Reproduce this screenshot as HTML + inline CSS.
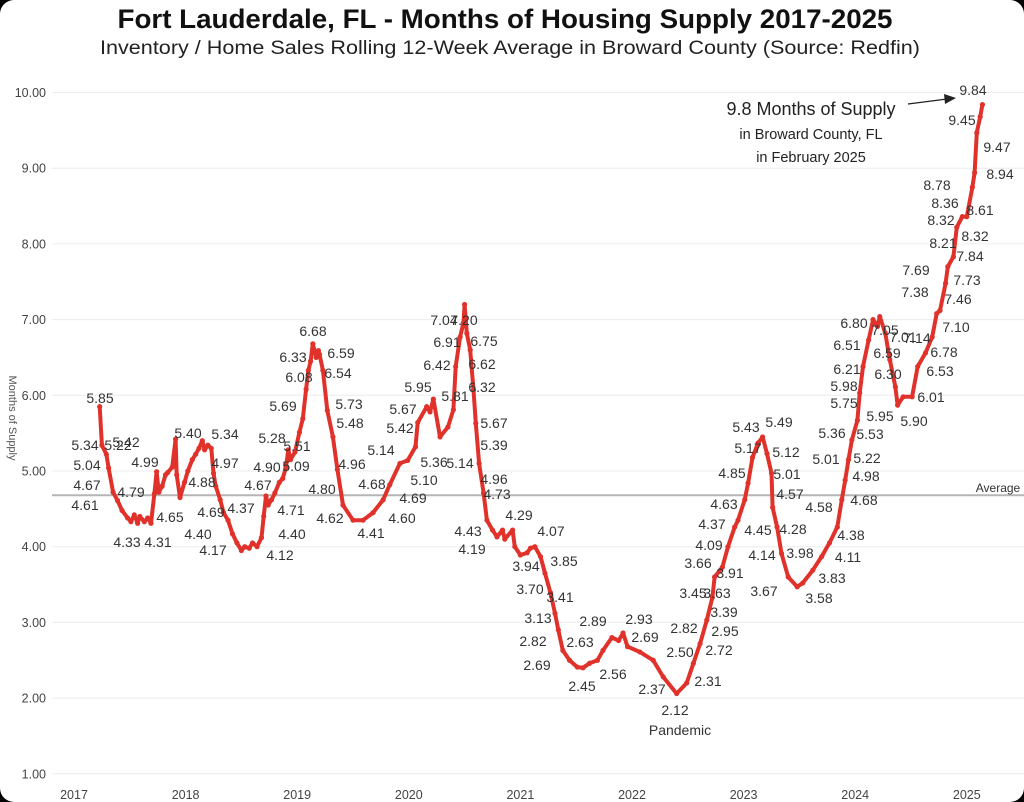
<!DOCTYPE html>
<html><head><meta charset="utf-8"><style>
html,body{margin:0;padding:0;background:#000;}
#wrap{position:relative;width:1024px;height:802px;background:#fff;border-radius:14px;overflow:hidden;}
svg{position:absolute;left:0;top:0;}
text{font-family:"Liberation Sans",sans-serif;}
.lb{font-size:14px;fill:#333;text-anchor:middle;}
.tk{font-size:12.5px;fill:#444;font-family:"Liberation Sans Narrow","Liberation Sans",sans-serif;}
</style></head><body>
<div id="wrap">
<svg id="chart" width="1024" height="802">
<text x="505" y="28" text-anchor="middle" font-size="27" font-weight="bold" textLength="775" lengthAdjust="spacingAndGlyphs" fill="#111" style="font-family:'Liberation Sans Narrow','Liberation Sans',sans-serif">Fort Lauderdale, FL - Months of Housing Supply 2017-2025</text>
<text x="510" y="54" text-anchor="middle" font-size="19" textLength="820" lengthAdjust="spacingAndGlyphs" fill="#222" style="font-family:'Liberation Sans Narrow','Liberation Sans',sans-serif">Inventory / Home Sales Rolling 12-Week Average in Broward County (Source: Redfin)</text>
<text transform="translate(9,418) rotate(90)" text-anchor="middle" font-size="11" fill="#555">Months of Supply</text>
<g id="grid"></g>
<g id="series"></g>
<g id="labels">
<text class="lb" x="100" y="403">5.85</text><text class="lb" x="85" y="450">5.34</text><text class="lb" x="118" y="450">5.22</text><text class="lb" x="87" y="470">5.04</text><text class="lb" x="131" y="497">4.79</text><text class="lb" x="87" y="490">4.67</text><text class="lb" x="85" y="510">4.61</text><text class="lb" x="127" y="547">4.33</text><text class="lb" x="158" y="547">4.31</text><text class="lb" x="126" y="447">5.42</text><text class="lb" x="145" y="467">4.99</text><text class="lb" x="170" y="522">4.65</text><text class="lb" x="188" y="438">5.40</text><text class="lb" x="225" y="439">5.34</text><text class="lb" x="225" y="468">4.97</text><text class="lb" x="202" y="487">4.88</text><text class="lb" x="211" y="517">4.69</text><text class="lb" x="198" y="539">4.40</text><text class="lb" x="213" y="555">4.17</text><text class="lb" x="241" y="513">4.37</text><text class="lb" x="258" y="490">4.67</text><text class="lb" x="267" y="472">4.90</text><text class="lb" x="272" y="443">5.28</text><text class="lb" x="291" y="515">4.71</text><text class="lb" x="292" y="539">4.40</text><text class="lb" x="280" y="560">4.12</text><text class="lb" x="283" y="411">5.69</text><text class="lb" x="299" y="382">6.08</text><text class="lb" x="293" y="362">6.33</text><text class="lb" x="313" y="336">6.68</text><text class="lb" x="341" y="358">6.59</text><text class="lb" x="338" y="378">6.54</text><text class="lb" x="349" y="409">5.73</text><text class="lb" x="350" y="428">5.48</text><text class="lb" x="297" y="451">5.51</text><text class="lb" x="296" y="471">5.09</text><text class="lb" x="322" y="494">4.80</text><text class="lb" x="352" y="469">4.96</text><text class="lb" x="372" y="489">4.68</text><text class="lb" x="330" y="523">4.62</text><text class="lb" x="371" y="538">4.41</text><text class="lb" x="402" y="523">4.60</text><text class="lb" x="413" y="503">4.69</text><text class="lb" x="381" y="455">5.14</text><text class="lb" x="424" y="485">5.10</text><text class="lb" x="434" y="467">5.36</text><text class="lb" x="400" y="433">5.42</text><text class="lb" x="403" y="414">5.67</text><text class="lb" x="418" y="392">5.95</text><text class="lb" x="437" y="370">6.42</text><text class="lb" x="447" y="347">6.91</text><text class="lb" x="444" y="325">7.04</text><text class="lb" x="464" y="325">7.20</text><text class="lb" x="484" y="346">6.75</text><text class="lb" x="482" y="369">6.62</text><text class="lb" x="482" y="392">6.32</text><text class="lb" x="455" y="401">5.81</text><text class="lb" x="460" y="468">5.14</text><text class="lb" x="494" y="428">5.67</text><text class="lb" x="494" y="450">5.39</text><text class="lb" x="494" y="484">4.96</text><text class="lb" x="497" y="499">4.73</text><text class="lb" x="468" y="536">4.43</text><text class="lb" x="472" y="554">4.19</text><text class="lb" x="519" y="520">4.29</text><text class="lb" x="551" y="536">4.07</text><text class="lb" x="526" y="571">3.94</text><text class="lb" x="564" y="566">3.85</text><text class="lb" x="530" y="594">3.70</text><text class="lb" x="560" y="602">3.41</text><text class="lb" x="538" y="623">3.13</text><text class="lb" x="533" y="646">2.82</text><text class="lb" x="537" y="670">2.69</text><text class="lb" x="580" y="647">2.63</text><text class="lb" x="593" y="626">2.89</text><text class="lb" x="582" y="691">2.45</text><text class="lb" x="613" y="679">2.56</text><text class="lb" x="639" y="624">2.93</text><text class="lb" x="645" y="642">2.69</text><text class="lb" x="652" y="694">2.37</text><text class="lb" x="675" y="715">2.12</text><text class="lb" x="680" y="735">Pandemic</text><text class="lb" x="684" y="633">2.82</text><text class="lb" x="680" y="657">2.50</text><text class="lb" x="708" y="686">2.31</text><text class="lb" x="719" y="655">2.72</text><text class="lb" x="725" y="636">2.95</text><text class="lb" x="724" y="617">3.39</text><text class="lb" x="717" y="598">3.63</text><text class="lb" x="693" y="598">3.45</text><text class="lb" x="730" y="578">3.91</text><text class="lb" x="698" y="568">3.66</text><text class="lb" x="709" y="550">4.09</text><text class="lb" x="712" y="529">4.37</text><text class="lb" x="724" y="509">4.63</text><text class="lb" x="732" y="478">4.85</text><text class="lb" x="748" y="453">5.17</text><text class="lb" x="746" y="432">5.43</text><text class="lb" x="779" y="427">5.49</text><text class="lb" x="786" y="457">5.12</text><text class="lb" x="787" y="479">5.01</text><text class="lb" x="790" y="499">4.57</text><text class="lb" x="758" y="535">4.45</text><text class="lb" x="793" y="534">4.28</text><text class="lb" x="762" y="560">4.14</text><text class="lb" x="800" y="558">3.98</text><text class="lb" x="764" y="596">3.67</text><text class="lb" x="819" y="603">3.58</text><text class="lb" x="832" y="583">3.83</text><text class="lb" x="848" y="562">4.11</text><text class="lb" x="851" y="540">4.38</text><text class="lb" x="819" y="512">4.58</text><text class="lb" x="864" y="505">4.68</text><text class="lb" x="866" y="481">4.98</text><text class="lb" x="867" y="463">5.22</text><text class="lb" x="826" y="464">5.01</text><text class="lb" x="832" y="438">5.36</text><text class="lb" x="870" y="439">5.53</text><text class="lb" x="844" y="408">5.75</text><text class="lb" x="844" y="391">5.98</text><text class="lb" x="847" y="374">6.21</text><text class="lb" x="847" y="350">6.51</text><text class="lb" x="854" y="328">6.80</text><text class="lb" x="885" y="335">7.05</text><text class="lb" x="903" y="342">7.01</text><text class="lb" x="887" y="358">6.59</text><text class="lb" x="888" y="379">6.30</text><text class="lb" x="880" y="421">5.95</text><text class="lb" x="914" y="426">5.90</text><text class="lb" x="931" y="402">6.01</text><text class="lb" x="940" y="376">6.53</text><text class="lb" x="944" y="357">6.78</text><text class="lb" x="956" y="332">7.10</text><text class="lb" x="917" y="343">7.14</text><text class="lb" x="958" y="304">7.46</text><text class="lb" x="915" y="297">7.38</text><text class="lb" x="967" y="285">7.73</text><text class="lb" x="916" y="275">7.69</text><text class="lb" x="970" y="261">7.84</text><text class="lb" x="943" y="248">8.21</text><text class="lb" x="975" y="241">8.32</text><text class="lb" x="941" y="225">8.32</text><text class="lb" x="980" y="215">8.61</text><text class="lb" x="945" y="208">8.36</text><text class="lb" x="937" y="190">8.78</text><text class="lb" x="1000" y="179">8.94</text><text class="lb" x="997" y="152">9.47</text><text class="lb" x="962" y="125">9.45</text><text class="lb" x="973" y="95">9.84</text>
</g>
<g>
<text x="811" y="115" text-anchor="middle" font-size="18" fill="#222">9.8 Months of Supply</text>
<text x="811" y="139" text-anchor="middle" font-size="14.5" fill="#222">in Broward County, FL</text>
<text x="811" y="162" text-anchor="middle" font-size="14.5" fill="#222">in February 2025</text>
<line x1="908" y1="104" x2="947" y2="99" stroke="#222" stroke-width="1.3"/>
<polygon points="956,98 944,94 945,104" fill="#222"/>
</g>
</svg>
</div>
<script>
const yTicks = [1,2,3,4,5,6,7,8,9,10];
const xTickYears = [2017,2018,2019,2020,2021,2022,2023,2024,2025];
const averageValue = 4.68;
const dates = [2017.23,2017.25,2017.29,2017.31,2017.35,2017.39,2017.43,2017.48,2017.51,2017.54,2017.57,2017.59,2017.63,2017.66,2017.69,2017.72,2017.74,2017.76,2017.79,2017.82,2017.84,2017.88,2017.91,2017.92,2017.95,2017.99,
2018.02,2018.06,2018.09,2018.12,2018.15,2018.17,2018.20,2018.23,2018.25,2018.27,2018.31,2018.34,2018.38,2018.42,2018.46,2018.50,2018.53,2018.57,2018.60,2018.64,2018.68,2018.70,2018.72,2018.74,2018.77,2018.80,2018.84,2018.87,2018.90,2018.92,2018.94,2018.98,
2019.02,2019.05,2019.08,2019.10,2019.12,2019.14,2019.17,2019.19,2019.20,2019.23,2019.27,2019.32,2019.36,2019.41,2019.50,2019.59,2019.68,2019.77,2019.83,2019.92,2019.99,
2020.06,2020.08,2020.16,2020.19,2020.22,2020.28,2020.35,2020.40,2020.42,2020.46,2020.49,2020.50,2020.52,2020.55,2020.58,2020.60,2020.63,2020.67,2020.70,2020.75,2020.79,2020.84,2020.86,2020.93,2020.95,
2021.00,2021.06,2021.09,2021.13,2021.18,2021.22,2021.27,2021.31,2021.34,2021.38,2021.44,2021.51,2021.56,2021.62,2021.69,2021.74,2021.82,2021.88,2021.92,2021.96,
2022.07,2022.19,2022.28,2022.40,2022.49,2022.55,2022.61,2022.67,2022.72,2022.74,2022.81,2022.86,2022.92,2022.95,
2023.01,2023.04,2023.08,2023.13,2023.17,2023.21,2023.25,2023.26,2023.30,2023.34,2023.40,2023.48,2023.53,2023.62,2023.70,2023.77,2023.84,2023.88,2023.91,2023.94,2023.97,
2024.02,2024.04,2024.07,2024.12,2024.16,2024.20,2024.22,2024.27,2024.31,2024.36,2024.38,2024.43,2024.51,2024.56,2024.63,2024.69,2024.73,2024.76,2024.81,2024.83,2024.88,2024.91,2024.96,
2025.00,2025.05,2025.07,2025.09,2025.12,2025.14];
const values = [5.85,5.34,5.22,5.04,4.72,4.61,4.48,4.38,4.33,4.42,4.31,4.40,4.33,4.38,4.31,4.70,4.99,4.72,4.80,4.95,4.98,5.05,5.42,4.95,4.65,4.85,
5.00,5.15,5.22,5.30,5.40,5.28,5.34,5.30,4.97,4.80,4.62,4.45,4.35,4.17,4.05,3.95,4.00,3.98,4.05,4.00,4.12,4.40,4.67,4.55,4.62,4.71,4.85,4.90,5.05,5.28,5.15,5.25,
5.51,5.69,6.08,6.33,6.45,6.68,6.50,6.59,6.54,6.33,5.80,5.45,5.02,4.55,4.35,4.35,4.45,4.62,4.82,5.10,5.14,
5.32,5.64,5.85,5.78,5.95,5.45,5.58,5.81,6.38,6.77,6.96,7.20,6.82,6.60,6.07,5.63,5.10,4.71,4.35,4.22,4.13,4.22,4.10,4.22,4.00,
3.89,3.92,3.98,4.00,3.87,3.65,3.39,3.12,2.90,2.63,2.50,2.41,2.40,2.46,2.50,2.63,2.80,2.76,2.86,2.68,
2.61,2.50,2.28,2.06,2.20,2.46,2.72,3.03,3.33,3.60,3.73,4.00,4.26,4.35,
4.62,4.84,5.18,5.37,5.45,5.23,4.97,4.52,4.26,3.91,3.60,3.47,3.52,3.69,3.87,4.05,4.26,4.62,4.88,5.15,5.41,
5.67,6.03,6.38,6.73,7.00,6.91,7.04,6.82,6.47,6.11,5.87,5.98,5.98,6.38,6.56,6.77,7.08,7.12,7.48,7.70,7.83,8.22,8.36,
8.36,8.75,8.94,9.47,9.68,9.84];

const NS = 'http://www.w3.org/2000/svg';
function xs(d){ return 74 + (d - 2017) * 111.6; }
function ys(v){ return 92.5 + (10 - v) * 75.7; }
const grid = document.getElementById('grid');
yTicks.forEach(t => {
  const l = document.createElementNS(NS,'line');
  l.setAttribute('x1',52); l.setAttribute('x2',1024);
  l.setAttribute('y1',ys(t)); l.setAttribute('y2',ys(t));
  l.setAttribute('stroke','#ececec'); l.setAttribute('stroke-width','1');
  
  
  grid.appendChild(l);
  const tx = document.createElementNS(NS,'text');
  tx.setAttribute('x',46); tx.setAttribute('y',ys(t)+4.5);
  tx.setAttribute('text-anchor','end'); tx.setAttribute('class','tk');
  tx.textContent = t.toFixed(2);
  
  
  grid.appendChild(tx);
});
xTickYears.forEach(yr => {
  const tx = document.createElementNS(NS,'text');
  tx.setAttribute('x',xs(yr)); tx.setAttribute('y',799);
  tx.setAttribute('text-anchor','middle'); tx.setAttribute('class','tk');
  tx.textContent = yr;
  
  
  grid.appendChild(tx);
});
const avg = document.createElementNS(NS,'line');
avg.setAttribute('x1',52); avg.setAttribute('x2',1024);
avg.setAttribute('y1',ys(averageValue)); avg.setAttribute('y2',ys(averageValue));
avg.setAttribute('stroke','#b5b5b5'); avg.setAttribute('stroke-width','2');


grid.appendChild(avg);
const at = document.createElementNS(NS,'text');
at.setAttribute('x',998); at.setAttribute('y',ys(averageValue)-3);
at.setAttribute('text-anchor','middle'); at.setAttribute('font-size','12'); at.setAttribute('fill','#333');
at.textContent = 'Average';


grid.appendChild(at);

const series = document.getElementById('series');
let d = '';
dates.forEach((dt,i) => { d += (i ? 'L' : 'M') + xs(dt).toFixed(1) + ',' + ys(values[i]).toFixed(1); });
const path = document.createElementNS(NS,'path');
path.setAttribute('d', d);
path.setAttribute('fill','none'); path.setAttribute('stroke','#e0322a');
path.setAttribute('stroke-width','4'); path.setAttribute('stroke-linejoin','round'); path.setAttribute('stroke-linecap','round');


series.appendChild(path);
dates.forEach((dt,i) => {
  const c = document.createElementNS(NS,'circle');
  c.setAttribute('cx', xs(dt)); c.setAttribute('cy', ys(values[i])); c.setAttribute('r', 2.6);
  c.setAttribute('fill','#e0322a');
  
  
  series.appendChild(c);
});
</script>
</body></html>
